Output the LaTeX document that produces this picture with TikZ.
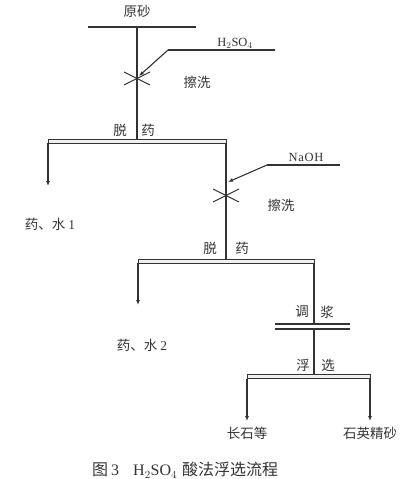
\documentclass[tikz,border=0pt]{standalone}
\usepackage{fontspec}
\setmainfont{Liberation Serif}
\newfontfamily\cjk{Noto Sans CJK SC}
\usetikzlibrary{arrows.meta}
\begin{document}
\begin{tikzpicture}[x=1pt,y=-1pt,
  ln/.style={line width=1.1pt,draw=black!80},
  arr/.style={ln,-{Latex[length=5pt,width=4pt]}},
  bar/.style={draw=black!80,line width=0.9pt,fill=gray!12},
  lbl/.style={font=\cjk\fontsize{13.5}{14}\selectfont,text=black!80,inner sep=0pt},
  chem/.style={font=\fontsize{12.5}{13}\selectfont,text=black!80,inner sep=0pt}]
\useasboundingbox (0,0) rectangle (415,479);
% top
\node[lbl] (raw) at (137,11) {原砂};
\coordinate (t1) at (88,27); \coordinate (t2) at (196,27);
\draw[ln] (t1) -- (t2);
\coordinate (v1top) at (137,27);
\coordinate (v1bot) at (137,141);
\draw[ln] (v1top) -- (v1bot);
% H2SO4
\node[chem] (h2so4) at (235,43) {H$_2$SO$_4$};
\coordinate (ha) at (275,50); \coordinate (hb) at (168,50); \coordinate (hc) at (139,76);
\draw[ln] (ha) -- (hb);
\draw[arr] (hb) -- (hc);
\coordinate (x1a) at (124,72); \coordinate (x1b) at (150,85);
\coordinate (x1c) at (124,85); \coordinate (x1d) at (150,72);
\draw[ln] (x1a) -- (x1b); \draw[ln] (x1c) -- (x1d);
\node[lbl] (wash1) at (197,82) {擦洗};
% first split
\node[lbl] (tuo1) at (120,130) {脱};
\node[lbl] (yao1) at (148,130) {药};
\node[bar,minimum width=178pt,minimum height=4pt,inner sep=0pt] (bar1) at (137,141) {};
\coordinate (l1a) at (48,143); \coordinate (l1b) at (48,186);
\draw[arr] (l1a) -- (l1b);
\node[lbl] (out1) at (50,224) {药、水 {\fontspec{Liberation Serif}1}};
\coordinate (v2top) at (226,143); \coordinate (v2bot) at (226,259);
\draw[ln] (v2top) -- (v2bot);
% NaOH
\node[chem] (naoh) at (306,157) {N\kern0.7pt a\kern0.7pt O\kern0.7pt H};
\coordinate (na) at (340,165); \coordinate (nb) at (267,165); \coordinate (nc) at (228,182);
\draw[ln] (na) -- (nb);
\draw[arr] (nb) -- (nc);
\coordinate (x2a) at (213,189); \coordinate (x2b) at (239,202);
\coordinate (x2c) at (213,202); \coordinate (x2d) at (239,189);
\draw[ln] (x2a) -- (x2b); \draw[ln] (x2c) -- (x2d);
\node[lbl] (wash2) at (281,205) {擦洗};
% second split
\node[lbl] (tuo2) at (210,248) {脱};
\node[lbl] (yao2) at (242,248) {药};
\node[bar,minimum width=176pt,minimum height=4pt,inner sep=0pt] (bar2) at (226,261) {};
\coordinate (l2a) at (138,263); \coordinate (l2b) at (138,305);
\draw[arr] (l2a) -- (l2b);
\node[lbl] (out2) at (142,345) {药、水 {\fontspec{Liberation Serif}2}};
\coordinate (v3top) at (314,263); \coordinate (v3bot) at (314,324);
\draw[ln] (v3top) -- (v3bot);
\node[lbl] (tiao) at (302,312) {调};
\node[lbl] (jiang) at (327,312) {浆};
\coordinate (d1a) at (275,324); \coordinate (d1b) at (350,324);
\coordinate (d2a) at (275,329); \coordinate (d2b) at (350,329);
\draw[ln] (d1a) -- (d1b); \draw[ln] (d2a) -- (d2b);
\coordinate (v4top) at (314,329); \coordinate (v4bot) at (314,375);
\draw[ln] (v4top) -- (v4bot);
\node[lbl] (fu) at (303,365) {浮};
\node[lbl] (xuan) at (328,365) {选};
\node[bar,minimum width=123pt,minimum height=4pt,inner sep=0pt] (bar3) at (308.5,376.5) {};
\coordinate (l3a) at (247,379); \coordinate (l3b) at (247,421);
\coordinate (r3a) at (370,379); \coordinate (r3b) at (370,421);
\draw[arr] (l3a) -- (l3b);
\draw[arr] (r3a) -- (r3b);
\node[lbl] (feld) at (247,433) {长石等};
\node[lbl] (quartz) at (370,433) {石英精砂};
% caption
\node[inner sep=0pt,anchor=west,text=black!80] (cap) at (92,470)
  {{\cjk\fontsize{16}{17}\selectfont 图}\kern3pt{\fontsize{16}{17}\selectfont 3\kern14pt H$_2$SO$_4$}\kern5pt{\cjk\fontsize{16}{17}\selectfont 酸法浮选流程}};
\end{tikzpicture}
\end{document}
